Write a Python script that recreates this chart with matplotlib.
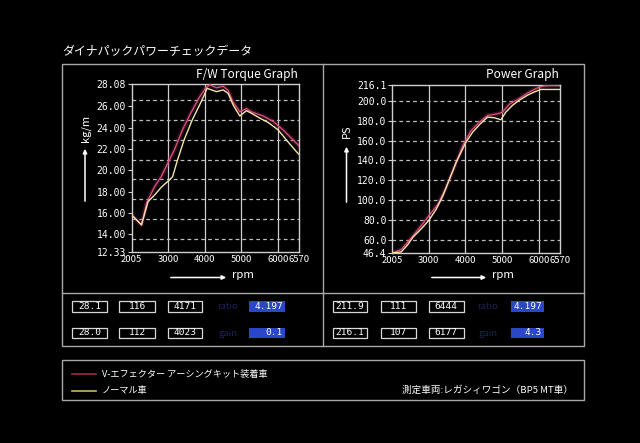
#! /usr/bin/env python3
"""
Dynapack power check chart (torque / power vs rpm)
"""

import matplotlib.pyplot as plt
from matplotlib.patches import Rectangle

plt.rcParams['font.family'] = ['Noto Sans CJK JP', 'DejaVu Sans']

# torque curves (kg/m)
torque_rpm_normal = [2005, 2139, 2273, 2362, 2451, 2630, 2809, 3032, 3121,
                     3255, 3434, 3657, 3836, 3987, 4059, 4136, 4318, 4500,
                     4636, 4773, 4955, 5136, 5273, 5500, 5727, 6000, 6227,
                     6500, 6570]
torque_normal = [15.8, 15.34, 14.87, 15.97, 17.06, 17.68, 18.4, 19.09, 19.4,
                 20.97, 22.85, 24.73, 25.98, 27.08, 27.7, 27.61, 27.39, 27.55,
                 27.23, 26.14, 25.1, 25.6, 25.36, 24.9, 24.5, 23.8, 22.85,
                 21.75, 21.5]
torque_rpm_v = [2005, 2139, 2273, 2407, 2630, 2809, 2987, 3166, 3389, 3612,
                3836, 4014, 4136, 4318, 4500, 4636, 4773, 4955, 5136, 5273,
                5591, 5864, 6136, 6409, 6570]
torque_v = [15.8, 15.34, 14.87, 16.9, 18.47, 19.4, 20.66, 21.9, 23.79, 25.35,
            26.77, 27.7, 28.05, 27.75, 27.9, 27.5, 26.4, 25.5, 25.8, 25.5,
            25.1, 24.6, 23.8, 22.85, 22.3]

# power curves (PS)
power_rpm_normal = [2005, 2258, 2438, 2574, 2754, 3000, 3205, 3386, 3566,
                    3747, 4010, 4198, 4424, 4604, 4785, 4965, 5100, 5281,
                    5462, 5687, 5868, 6048, 6570]
power_normal = [46.4, 47.5, 55, 62.4, 69, 79, 90.5, 104, 121, 138, 158, 168.5,
                177.6, 183.7, 183, 181, 188.8, 195.6, 200.7, 205.8, 209,
                211.6, 211.6]
power_rpm_v = [2005, 2258, 2438, 2754, 3000, 3250, 3476, 3702, 3928, 4153,
               4379, 4604, 4875, 5010, 5191, 5462, 5687, 5913, 6139, 6570]
power_v = [46.4, 50, 57.6, 71.9, 83.7, 95.6, 112.5, 132.9, 155, 170, 178.6,
           185.4, 187, 188.8, 196.6, 202.4, 208, 212.5, 215.3, 216.1]

rpm_ticks = [2005, 3000, 4000, 5000, 6000, 6570]
torque_ticks = [12.33, 14, 16, 18, 20, 22, 24, 26, 28.08]
power_ticks = [46.4, 60, 80, 100, 120, 140, 160, 180, 200, 216.1]

# readout boxes
torque_row1 = ['28.1', '116', '4171']
torque_row2 = ['28.0', '112', '4023']
power_row1 = ['211.9', '111', '6444']
power_row2 = ['216.1', '107', '6177']
ratio_value = '4.197'
torque_gain = '0.1'
power_gain = '4.3'

title = 'ダイナパックパワーチェックデータ'
legend_v = 'V-エフェクター アーシングキット装着車'
legend_normal = 'ノーマル車'
vehicle_note = '測定車両:レガシィワゴン（BP5 MT車）'

RED = '#e0507a'
GLOW = '#9c2c6a'
YELLOW = '#f1e6a6'
LINE = '#a8a8a8'
GRID = '#cfcfcf'
W, H = 640, 443


def style_chart(ax, ticks, fmt, grid_y):
    ax.set_facecolor('black')
    ax.set_xlim(rpm_ticks[0], rpm_ticks[-1])
    ax.set_ylim(ticks[0], ticks[-1])
    ax.set_xticks(rpm_ticks)
    ax.set_xticklabels([str(t) for t in rpm_ticks], fontsize=6.8,
                       color='white')
    ax.set_yticks(ticks)
    ax.set_yticklabels([fmt % t for t in ticks], fontsize=7, color='white',
                       family='DejaVu Sans Mono')
    ax.tick_params(axis='x', length=0, pad=2)
    ax.tick_params(axis='y', length=3, width=0.8, color=GRID, pad=1)
    for sp in ax.spines.values():
        sp.set_color(GRID)
        sp.set_linewidth(1.0)
    for t in rpm_ticks[1:-1]:
        ax.axvline(t, color=GRID, lw=0.9, zorder=1)
    for g in grid_y:
        ax.axhline(g, color='#bdbdbd', lw=0.9, ls=(0, (3, 2.5)), zorder=1)


def draw_curves(ax, x_v, y_v, x_n, y_n):
    ax.plot(x_v, y_v, color=GLOW, lw=3.2, alpha=0.3, zorder=2,
            solid_capstyle='round')
    ax.plot(x_v, y_v, color=RED, lw=0.9, zorder=3)
    ax.plot(x_n, y_n, color=YELLOW, lw=1.0, zorder=4)


def value_box(ax, x0, y0, w, h, text):
    ax.add_patch(Rectangle((x0, y0), w, h, fill=False, ec='#d8d8d8', lw=0.9))
    ax.text(x0 + w / 2, y0 + h / 2, text, color='white', fontsize=6.8,
            family='DejaVu Sans Mono', ha='center', va='center')


def blue_box(ax, x0, y0, w, h, text):
    ax.add_patch(Rectangle((x0, y0), w, h, fc='#2b46c6', ec='none'))
    ax.text(x0 + w - 2, y0 + h / 2, text, color='white', fontsize=6.8,
            family='DejaVu Sans Mono', ha='right', va='center')


def main():
    fig = plt.figure(figsize=(W / 100, H / 100), dpi=100, facecolor='black')

    # pixel overlay for frames and text
    ov = fig.add_axes([0, 0, 1, 1])
    ov.set_xlim(0, W)
    ov.set_ylim(H, 0)
    ov.axis('off')
    ov.set_zorder(0)

    ov.text(62, 52, title, color='white', fontsize=8.6, ha='left',
            va='center')
    ov.add_patch(Rectangle((62, 64), 522, 282, fill=False, ec=LINE, lw=1))
    ov.plot([62, 584], [293, 293], color=LINE, lw=1)
    ov.plot([323, 323], [64, 346], color=LINE, lw=1)
    ov.add_patch(Rectangle((62, 360), 522, 40, fill=False, ec=LINE, lw=1))

    # chart titles and axis arrows
    ov.text(298, 74, 'F/W Torque Graph', color='white', fontsize=8.6,
            ha='right', va='center')
    ov.text(559, 74, 'Power Graph', color='white', fontsize=8.6,
            ha='right', va='center')
    for x0, x1 in [(168, 229), (429, 489)]:
        ov.annotate('', xy=(x1, 277.5), xytext=(x0, 277.5),
                    arrowprops=dict(arrowstyle='-|>', color='white', lw=1.1,
                                    mutation_scale=6))
        ov.text(x1 + 3, 275.5, 'rpm', color='white', fontsize=8.2,
                ha='left', va='center')
    ov.annotate('', xy=(85, 146), xytext=(85, 204),
                arrowprops=dict(arrowstyle='-|>', color='white', lw=1.1,
                                mutation_scale=6))
    ov.text(86, 128, 'kg/m', color='white', fontsize=8, rotation=90,
            ha='center', va='center')
    ov.annotate('', xy=(346.5, 144), xytext=(346.5, 205),
                arrowprops=dict(arrowstyle='-|>', color='white', lw=1.1,
                                mutation_scale=6))
    ov.text(347, 131, 'PS', color='white', fontsize=8, rotation=90,
            ha='center', va='center')

    # readouts
    left_x = [72.3, 119.3, 167.7]
    right_x = [332.7, 380.7, 429.0]
    widths = [34.4, 35.7, 34.6]
    for xs, r1, r2 in [(left_x, torque_row1, torque_row2),
                       (right_x, power_row1, power_row2)]:
        for x0, w, t1, t2 in zip(xs, widths, r1, r2):
            value_box(ov, x0, 301, w, 10.7, t1)
            value_box(ov, x0, 327.5, w, 10.7, t2)
    for xc in [228, 488]:
        ov.text(xc, 306.5, 'ratio', color='#1c2456', fontsize=6.8,
                ha='center', va='center')
        ov.text(xc, 333, 'gain', color='#1c2456', fontsize=6.8,
                ha='center', va='center')
    blue_box(ov, 249.3, 301, 35.7, 10.7, ratio_value)
    blue_box(ov, 249.3, 327.5, 35.7, 10.7, torque_gain)
    blue_box(ov, 510.7, 301, 33.6, 10.7, ratio_value)
    blue_box(ov, 510.7, 327.5, 33.6, 10.7, power_gain)

    # legend
    ov.plot([72, 96], [374, 374], color='#9a2d44', lw=1.2)
    ov.plot([72, 96], [390.5, 390.5], color='#c9b466', lw=1.2)
    ov.text(102, 374, legend_v, color='white', fontsize=6.6, ha='left',
            va='center')
    ov.text(102, 390.5, legend_normal, color='white', fontsize=6.6,
            ha='left', va='center')
    ov.text(573, 390, vehicle_note, color='white', fontsize=6.9,
            ha='right', va='center')

    # torque chart: dashed grid shares the pixel template of the power grid
    p_lo, p_hi = power_ticks[0], power_ticks[-1]
    t_lo, t_hi = torque_ticks[0], torque_ticks[-1]
    fracs = [(g - p_lo) / (p_hi - p_lo) for g in power_ticks[1:-1]]
    torque_grid = [t_lo + f * (t_hi - t_lo) for f in fracs]

    ax1 = fig.add_axes([131.7 / W, 1 - 252 / H, 167.3 / W, 167.7 / H])
    style_chart(ax1, torque_ticks, '%.2f', torque_grid)
    draw_curves(ax1, torque_rpm_v, torque_v, torque_rpm_normal, torque_normal)

    ax2 = fig.add_axes([392 / W, 1 - 253 / H, 168 / W, 168 / H])
    style_chart(ax2, power_ticks, '%.1f', power_ticks[1:-1])
    draw_curves(ax2, power_rpm_v, power_v, power_rpm_normal, power_normal)

    fig.savefig('out.png', dpi=100, facecolor='black')


if __name__ == '__main__':
    main()
